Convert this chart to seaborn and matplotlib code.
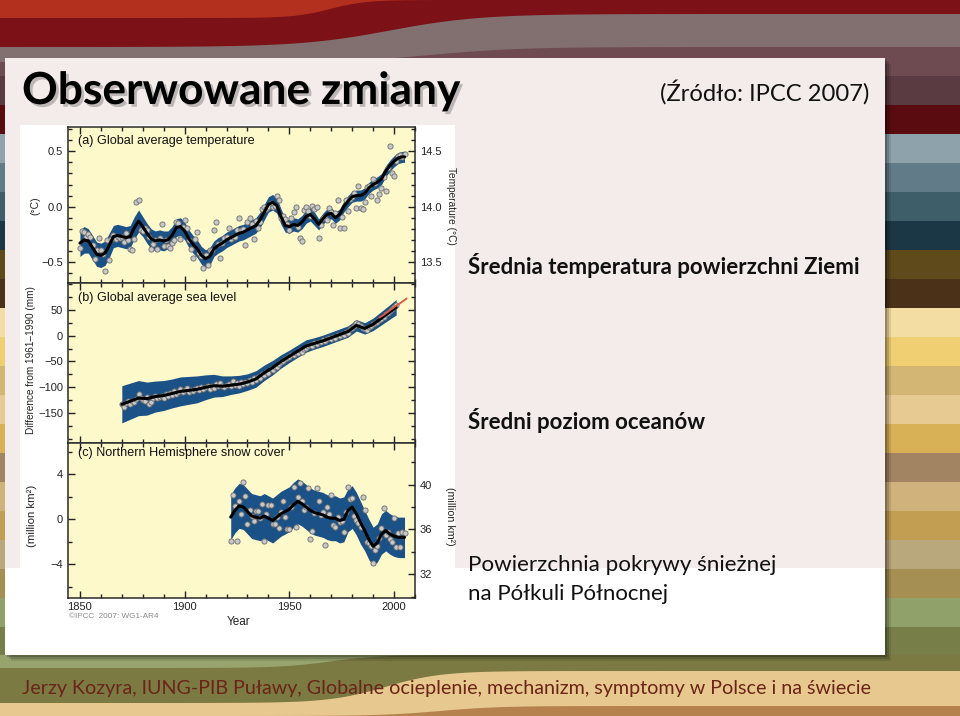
import numpy as np
import matplotlib
matplotlib.use("Agg")
import matplotlib.pyplot as plt
import matplotlib.ticker as mticker
import matplotlib.patheffects as pe
from matplotlib.patches import Rectangle
import seaborn as sns

# ---------------- data ----------------
temp_years = list(range(1850, 2006))
temp_anom = [
    -0.37, -0.22, -0.23, -0.27, -0.25, -0.27, -0.35, -0.47, -0.39, -0.28,
    -0.39, -0.43, -0.58, -0.30, -0.48, -0.29, -0.26, -0.29, -0.27, -0.28,
    -0.27, -0.32, -0.24, -0.30, -0.38, -0.39, -0.29, 0.04, 0.06, -0.21,
    -0.22, -0.19, -0.21, -0.27, -0.38, -0.34, -0.30, -0.38, -0.28, -0.16,
    -0.36, -0.30, -0.36, -0.37, -0.33, -0.30, -0.14, -0.15, -0.29, -0.18,
    -0.12, -0.19, -0.30, -0.38, -0.46, -0.29, -0.23, -0.42, -0.45, -0.55,
    -0.44, -0.53, -0.39, -0.39, -0.21, -0.14, -0.34, -0.46, -0.33, -0.28,
    -0.27, -0.19, -0.29, -0.27, -0.27, -0.21, -0.10, -0.21, -0.20, -0.35,
    -0.14, -0.10, -0.16, -0.29, -0.13, -0.19, -0.14, -0.02, -0.00, -0.02,
    0.00, 0.03, 0.00, 0.01, 0.10, 0.06, -0.10, -0.08, -0.11, -0.16,
    -0.21, -0.10, -0.05, 0.00, -0.18, -0.28, -0.31, -0.03, 0.00, -0.04,
    -0.08, 0.01, -0.02, 0.00, -0.28, -0.17, -0.10, -0.10, -0.12, -0.01,
    -0.05, -0.17, -0.06, 0.06, -0.19, -0.09, -0.19, 0.06, -0.04, 0.07,
    0.09, 0.12, -0.01, 0.19, -0.01, -0.02, 0.04, 0.18, 0.19, 0.10,
    0.25, 0.21, 0.06, 0.11, 0.17, 0.27, 0.14, 0.35, 0.55, 0.30,
    0.28, 0.41, 0.46, 0.47, 0.45, 0.48]
temp_smooth_years = [
    1850, 1852, 1854, 1856, 1858, 1860, 1862, 1864, 1866, 1868, 1870, 1872, 1874,
    1876, 1878, 1880, 1882, 1884, 1886, 1888, 1890, 1892, 1894, 1896, 1898, 1900,
    1902, 1904, 1906, 1908, 1910, 1912, 1914, 1916, 1918, 1920, 1922, 1924, 1926,
    1928, 1930, 1932, 1934, 1936, 1938, 1940, 1942, 1944, 1946, 1948, 1950, 1952,
    1954, 1956, 1958, 1960, 1962, 1964, 1966, 1968, 1970, 1972, 1974, 1976, 1978,
    1980, 1982, 1984, 1986, 1988, 1990, 1992, 1994, 1996, 1998, 2000, 2002, 2004, 2005]
temp_smooth = [
    -0.33, -0.30, -0.31, -0.37, -0.43, -0.44, -0.42, -0.35, -0.27, -0.26, -0.27, -0.28, -0.27,
    -0.19, -0.13, -0.18, -0.24, -0.29, -0.31, -0.30, -0.31, -0.30, -0.26, -0.19, -0.18, -0.22,
    -0.29, -0.34, -0.38, -0.44, -0.47, -0.45, -0.38, -0.35, -0.33, -0.30, -0.28, -0.26, -0.24,
    -0.23, -0.21, -0.19, -0.17, -0.12, -0.05, 0.02, 0.04, 0.01, -0.09, -0.17, -0.18, -0.16,
    -0.17, -0.14, -0.09, -0.07, -0.11, -0.16, -0.11, -0.07, -0.06, -0.10, -0.07, 0.00, 0.05,
    0.09, 0.10, 0.10, 0.12, 0.17, 0.20, 0.22, 0.25, 0.32, 0.37, 0.41, 0.44, 0.45, 0.45]
temp_halfwidth = [
    0.12, 0.12, 0.11, 0.11, 0.11, 0.11, 0.11, 0.11, 0.10, 0.10, 0.10, 0.10, 0.10,
    0.10, 0.10, 0.09, 0.09, 0.09, 0.09, 0.09, 0.09, 0.08, 0.08, 0.08, 0.08, 0.08,
    0.08, 0.08, 0.08, 0.08, 0.08, 0.08, 0.07, 0.07, 0.07, 0.07, 0.07, 0.07, 0.07,
    0.07, 0.07, 0.07, 0.07, 0.07, 0.07, 0.07, 0.07, 0.07, 0.07, 0.06, 0.06, 0.06,
    0.06, 0.06, 0.06, 0.06, 0.06, 0.05, 0.05, 0.05, 0.05, 0.05, 0.05, 0.05, 0.05,
    0.05, 0.05, 0.05, 0.05, 0.05, 0.05, 0.05, 0.05, 0.05, 0.05, 0.05, 0.05, 0.05, 0.05]

sea_years = list(range(1870, 2002))
sea_level = [
    -133, -138, -130, -127, -132, -126, -129, -122, -114, -120,
    -124, -126, -118, -133, -128, -120, -117, -121, -118, -116,
    -120, -114, -117, -112, -115, -108, -113, -110, -104, -109,
    -106, -102, -110, -105, -108, -103, -101, -106, -99, -104,
    -100, -98, -103, -97, -101, -94, -98, -92, -97, -100,
    -96, -93, -97, -88, -95, -92, -97, -90, -94, -89,
    -92, -86, -89, -83, -86, -80, -82, -75, -77, -70,
    -72, -65, -66, -60, -61, -55, -52, -50, -46, -44,
    -41, -38, -37, -33, -34, -28, -31, -25, -23, -21,
    -18, -20, -15, -17, -13, -12, -9, -11, -7, -5,
    -7, -3, -5, 1, -1, 4, 2, 7, 6, 12,
    15, 19, 24, 22, 18, 15, 12, 11, 16, 19,
    22, 25, 27, 31, 33, 37, 41, 44, 47, 52,
    56, 59]
sea_smooth_years = [1870, 1874, 1878, 1882, 1886, 1890, 1894, 1898, 1902, 1906, 1910, 1914,
                    1918, 1922, 1926, 1930, 1934, 1938, 1942, 1946, 1950, 1954, 1958, 1962,
                    1966, 1970, 1974, 1978, 1982, 1986, 1990, 1994, 1998, 2001]
sea_smooth = [-133, -127, -121, -122, -118, -116, -112, -108, -106, -104, -100, -97,
              -98, -96, -94, -90, -84, -72, -62, -50, -40, -30, -20, -15,
              -10, -4, 2, 8, 20, 14, 22, 34, 46, 55]
sea_halfwidth = [36, 35, 34, 32, 30, 29, 28, 28, 27, 26, 24, 22,
                 20, 18, 17, 16, 16, 15, 14, 13, 12, 12, 12, 11,
                 11, 11, 11, 11, 11, 11, 12, 13, 14, 15]
sat_years = [1993, 1995, 1997, 1999, 2001, 2003, 2005, 2006]
sat_level = [35, 40, 46, 52, 58, 63, 69, 72]

snow_years = list(range(1922, 2006))
snow_anom = [
    -1.9, 2.2, 1.2, -1.9, 1.6, 0.5, 3.3, 2.1, -0.45, 0.8,
    0.3, -0.1, 0.75, 0.75, 0.1, 1.4, -1.9, 0.45, 1.3, 1.3,
    -0.45, -0.45, 0.25, -0.8, 0.7, 1.6, 0.25, -0.9, -0.85, 1.1,
    2.9, -0.65, 2.0, 3.2, 1.6, 0.8, 1.1, 2.8, -1.75, -1.05,
    0.6, 2.8, 1.6, 0.4, 0.7, -2.3, 1.1, 0.5, 2.2, -0.5,
    -0.65, 0.25, -0.2, -0.15, -1.1, 0.7, 2.9, 1.8, 1.9, 0.3,
    -0.06, -0.3, -0.65, 2.0, 0.8, -2.0, -2.1, -2.35, -3.9, -2.7,
    -2.35, -1.7, -0.8, 1.0, -1.4, -1.15, -1.75, -2.0, 0.1, -2.45,
    -1.2, -2.45, -1.15, -1.2]
snow_smooth_years = [1922, 1924, 1926, 1928, 1930, 1932, 1934, 1936, 1938, 1940, 1942,
                     1944, 1946, 1948, 1950, 1952, 1954, 1956, 1958, 1960, 1962, 1964,
                     1966, 1968, 1970, 1972, 1974, 1976, 1978, 1980, 1982, 1984, 1986,
                     1988, 1990, 1992, 1994, 1996, 1998, 2000, 2002, 2004, 2005]
snow_smooth = [0.2, 0.8, 1.2, 1.1, 0.7, 0.3, 0.2, 0.1, 0.3, 0.1, -0.1,
               0.2, 0.5, 0.7, 0.9, 1.3, 1.6, 1.4, 1.1, 0.8, 0.6, 0.5,
               0.4, 0.2, 0.1, 0.1, -0.1, 0.0, 0.8, 1.1, 0.5, -0.3, -1.0,
               -1.8, -2.4, -2.1, -1.3, -1.0, -1.3, -1.5, -1.6, -1.6, -1.6]
snow_halfwidth = [2.0, 2.0, 2.0, 2.0, 2.0, 2.0, 2.0, 2.0, 2.0, 2.0, 2.0,
                  2.0, 2.0, 2.0, 2.0, 2.0, 2.0, 2.0, 2.0, 2.0, 2.0, 2.0,
                  2.0, 2.0, 2.0, 2.0, 2.0, 2.0, 1.9, 1.9, 1.9, 1.9, 1.8,
                  1.8, 1.7, 1.7, 1.8, 1.8, 1.8, 1.8, 1.8, 1.8, 1.8]

year_ticks = [1850, 1900, 1950, 2000]
temp_ticks = [-0.5, 0.0, 0.5]
temp_abs_ticks = [13.5, 14.0, 14.5]
sea_ticks = [-150, -100, -50, 0, 50]
snow_ticks = [-4, 0, 4]
snow_abs_ticks = [32, 36, 40]

# ---------------- styling ----------------
sns.set_theme(style="ticks")
plt.rcParams['font.family'] = ['Liberation Sans', 'DejaVu Sans']
plt.rcParams['axes.unicode_minus'] = True

W, H = 960, 716
fig = plt.figure(figsize=(9.6, 7.16), dpi=100)
renderer = fig.canvas.get_renderer()

def sig(x, x0, w):
    return 1.0 / (1.0 + np.exp(-(x - x0) / w))

# ---------------- slide background ----------------
bg = fig.add_axes([0, 0, 1, 1], zorder=-10)
bg.set_xlim(0, W)
bg.set_ylim(H, 0)
bg.axis('off')

stripes = [(0, 15, '#7c1118'), (15, 47, '#7f6a6b'), (47, 76, '#6e4b51'), (76, 105, '#5b3b42'),
           (105, 134, '#5a0b0f'), (134, 163, '#8ea2ac'), (163, 192, '#617b89'),
           (192, 221, '#3e5e69'), (221, 250, '#1b3746'), (250, 279, '#5e4a1b'),
           (279, 308, '#4b3118'), (308, 337, '#f4dda2'), (337, 366, '#efcf72'),
           (366, 395, '#d3b673'), (395, 424, '#e7c992'), (424, 453, '#d8b055'),
           (453, 482, '#a28362'), (482, 511, '#d0b27c'), (511, 540, '#c19e52'),
           (540, 569, '#b8a87c'), (569, 598, '#a68f52'), (598, 627, '#91a16a'),
           (627, 660, '#787e48')]
for y0, y1, c in stripes:
    bg.add_patch(Rectangle((0, y0), W, y1 - y0, color=c, lw=0))

xs = np.linspace(0, W, 500)
# top curved bands
bg.fill_between(xs, 0, 62, color='#827071', lw=0)
bg.fill_between(xs, 47 + 16 * (1 - sig(xs, 430, 45)), 62, color='#6e4b51', lw=0)
bg.fill_between(xs, 0, 47 - 33 * sig(xs, 390, 45), color='#7d1118', lw=0)
bg.fill_between(xs, 0, 18 * (1 - sig(xs, 330, 18)), color='#b3301f', lw=0)

# footer bands
bg.add_patch(Rectangle((0, 655), W, H - 655, color='#e7c88e', lw=0))
bg.fill_between(xs, 655, 671 + 32 * (1 - sig(xs, 385, 28)), color='#7a7a42', lw=0)
bg.fill_between(xs, 655, 655 + 13 * (1 - sig(xs, 330, 25)), color='#98a46e', lw=0)
bg.fill_between(xs, 716 - 10 * sig(xs, 440, 30), 716, color='#b5824e', lw=0)

# slide panel with shadow
for off, a in [(6, 0.10), (4, 0.15), (2, 0.2)]:
    bg.add_patch(Rectangle((5 + off, 58 + off), 880, 597, color='black', alpha=a, lw=0))
bg.add_patch(Rectangle((5, 58), 880, 510, color='#f4ecea', lw=0))
bg.add_patch(Rectangle((5, 568), 880, 87, color='white', lw=0))
# chart picture background
bg.add_patch(Rectangle((20, 125), 435, 510, color='white', lw=0))

# ---------------- chart panels ----------------
YELLOW = '#fdf9cb'
BAND = '#1a5186'
DOT = '#c8c8c8'
DOTE = '#6c6c6c'
TICKC = '#222222'

def fx(x):
    return x / W

def fy(y):
    return 1 - y / H

def add_panel(y_top, y_bot):
    return fig.add_axes([fx(68), fy(y_bot), (415 - 68) / W, (y_bot - y_top) / H])

def minus_fmt(fmt):
    return mticker.FuncFormatter(lambda v, p: fmt.format(v).replace('-', '\u2212'))

def style(ax, ylim, major_ticks, minor, fmt, xlabels=False, right_ticks=True):
    ax.set_facecolor(YELLOW)
    ax.set_xlim(1844.3, 2010)
    ax.set_ylim(*ylim)
    ax.xaxis.set_major_locator(mticker.FixedLocator(year_ticks))
    ax.xaxis.set_minor_locator(mticker.MultipleLocator(10))
    ax.yaxis.set_major_locator(mticker.FixedLocator(major_ticks))
    ax.yaxis.set_minor_locator(mticker.MultipleLocator(minor))
    ax.yaxis.set_major_formatter(minus_fmt(fmt))
    ax.tick_params(which='both', direction='in', top=True, bottom=True, left=True,
                   right=right_ticks, color=TICKC, width=1.0, labelcolor=TICKC,
                   labelsize=8, pad=3.5, labelbottom=xlabels)
    ax.tick_params(which='major', length=5)
    ax.tick_params(which='minor', length=3)
    for s in ax.spines.values():
        s.set_visible(True)
        s.set_color('#2a2a2a')
        s.set_linewidth(1.1)
    ax.set_xlabel('')
    ax.set_ylabel('')

def draw_series(ax, yrs, vals, syrs, svals, shw):
    s = np.array(svals)
    h = np.array(shw)
    ax.fill_between(syrs, s - h, s + h, color=BAND, lw=0, zorder=1)
    sns.scatterplot(x=yrs, y=vals, ax=ax, s=14, color=DOT, edgecolor=DOTE,
                    linewidth=0.6, zorder=3, legend=False)
    sns.lineplot(x=syrs, y=svals, ax=ax, color='black', lw=2.2, zorder=4, legend=False)

def right_axis(ax, ylim, major_ticks, minor, fmt):
    tw = ax.twinx()
    tw.set_ylim(*ylim)
    tw.yaxis.set_major_locator(mticker.FixedLocator(major_ticks))
    tw.yaxis.set_minor_locator(mticker.MultipleLocator(minor))
    tw.yaxis.set_major_formatter(mticker.FuncFormatter(lambda v, p: fmt.format(v)))
    tw.tick_params(which='both', direction='in', right=True, color=TICKC, width=1.0,
                   labelcolor=TICKC, labelsize=8, pad=3.5)
    tw.tick_params(which='major', length=5)
    tw.tick_params(which='minor', length=3)
    for s in tw.spines.values():
        s.set_visible(False)
    return tw

# (a) temperature
ax_a = add_panel(127, 283)
draw_series(ax_a, temp_years, temp_anom, temp_smooth_years, temp_smooth, temp_halfwidth)
style(ax_a, (-0.69, 0.72), temp_ticks, 0.1, '{:.1f}', right_ticks=False)
right_axis(ax_a, (14.0 - 0.69, 14.0 + 0.72), temp_abs_ticks, 0.1, '{:.1f}')

# (b) sea level
ax_b = add_panel(283, 443)
draw_series(ax_b, sea_years, sea_level, sea_smooth_years, sea_smooth, sea_halfwidth)
sns.lineplot(x=sat_years, y=sat_level, ax=ax_b, color='#e2553e', lw=1.3, zorder=5, legend=False)
style(ax_b, (-208, 102), sea_ticks, 25, '{:.0f}')

# (c) snow cover
ax_c = add_panel(443, 598)
draw_series(ax_c, snow_years, snow_anom, snow_smooth_years, snow_smooth, snow_halfwidth)
style(ax_c, (-7.0, 6.8), snow_ticks, 2, '{:.0f}', xlabels=True, right_ticks=False)
ax_c.xaxis.set_major_formatter(mticker.FuncFormatter(lambda v, p: f'{int(v)}'))
ax_c.tick_params(axis='x', pad=3)
right_axis(ax_c, (36.9 - 7.0, 36.9 + 6.8), snow_abs_ticks, 2, '{:.0f}')

# ---------------- texts ----------------
def fit_text(x, y, s, width, along='w', **kw):
    t = fig.text(fx(x), fy(y), s, **kw)
    bb = t.get_window_extent(renderer)
    cur = bb.width if along == 'w' else bb.height
    t.set_fontsize(t.get_fontsize() * width / cur)
    return t

CH = ['Liberation Sans', 'DejaVu Sans']
fit_text(78, 144, '(a) Global average temperature', 177, ha='left', va='baseline', family=CH, color='#111')
fit_text(78, 301, '(b) Global average sea level', 158, ha='left', va='baseline', family=CH, color='#111')
fit_text(78, 456, '(c) Northern Hemisphere snow cover', 206, ha='left', va='baseline', family=CH, color='#111')

fig.text(fx(35), fy(206), '(\u00b0C)', rotation=90, ha='center', va='center', family=CH,
         color='#222', fontsize=7.5)
fit_text(31, 360, 'Difference from 1961\u20131990 (mm)', 148, along='h', rotation=90, ha='center', va='center', family=CH, color='#222')
fit_text(32, 516, '(million km\u00b2)', 62, along='h', rotation=90, ha='center', va='center', family=CH, color='#222')
fit_text(451, 206, 'Temperature (\u00b0C)', 78, along='h', rotation=-90, ha='center', va='center', family=CH, color='#222')
fit_text(450, 516, '(million km\u00b2)', 58, along='h', rotation=-90, ha='center', va='center', family=CH, color='#222')
fit_text(239, 622, 'Year', 24, ha='center', va='center', family=CH, color='#222')
fit_text(69, 616, '\u00a9IPCC  2007: WG1-AR4', 90, ha='left', va='center', family=CH, color='#8a8a8a')

SL = ['Lato', 'DejaVu Sans']
fit_text(22, 104, 'Obserwowane zmiany', 436, ha='left', va='baseline', family=SL, weight='bold', color='black',
         path_effects=[pe.withSimplePatchShadow(offset=(2, -2), alpha=0.35, shadow_rgbFace='#555555')])
fit_text(660, 101, '(\u0179r\u00f3d\u0142o: IPCC 2007)', 208, ha='left', va='baseline', family=SL, color='#111')
fit_text(468, 274, '\u015arednia temperatura powierzchni Ziemi', 388, ha='left', va='baseline', family=SL, weight='bold', color='#111')
fit_text(468, 429, '\u015aredni poziom ocean\u00f3w', 235, ha='left', va='baseline', family=SL, weight='bold', color='#111')
fit_text(468, 571, 'Powierzchnia pokrywy \u015bnie\u017cnej', 307, ha='left', va='baseline', family=SL, color='#111')
fit_text(468, 600, 'na P\u00f3\u0142kuli P\u00f3\u0142nocnej', 200, ha='left', va='baseline', family=SL, color='#111')
fit_text(22, 694, 'Jerzy Kozyra, IUNG-PIB Pu\u0142awy, Globalne ocieplenie, mechanizm, symptomy w Polsce i na \u015bwiecie',
         848, ha='left', va='baseline', family=SL, color='#6b2417')

fig.savefig('out.png', dpi=100)
